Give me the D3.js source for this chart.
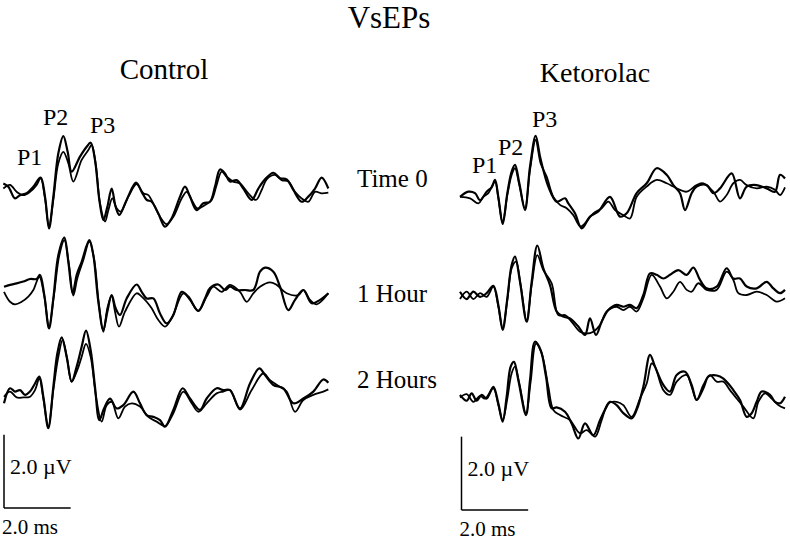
<!DOCTYPE html>
<html><head><meta charset="utf-8">
<script src="https://cdn.jsdelivr.net/npm/d3@7"></script>
<style>
html,body{margin:0;padding:0;background:#fff;}
</style></head>
<body><svg id="c" width="790" height="542"></svg>
<script>
// ---- data: [time (ms), amplitude (µV)] ----
const control_t0_a = [[0.10,0.09],[0.25,0],[0.45,-0.32],[0.6,-0.23],[0.8,-0.18],[1.0,0],[1.22,0.25],[1.35,-0.27],[1.47,-1.14],[1.6,-0.27],[1.75,0.91],[1.9,1.38],[2.03,0.95],[2.15,0.41],[2.4,0.82],[2.6,1.09],[2.72,1.2],[2.85,0.73],[2.98,-0.36],[3.1,-0.91],[3.22,-0.55],[3.35,-0.05],[3.47,-0.55],[3.58,-0.77],[3.8,-0.36],[4.08,0.11],[4.25,-0.14],[4.4,-0.36],[4.55,-0.41],[4.75,-0.73],[4.95,-1.09],[5.15,-0.86],[5.4,-0.27],[5.55,0],[5.7,-0.27],[5.9,-0.64],[6.1,-0.45],[6.3,-0.41],[6.45,0],[6.6,0.47],[6.75,0.36],[6.9,0.14],[7.1,0.18],[7.3,-0.05],[7.55,-0.36],[7.75,-0.05],[7.95,0.2],[8.2,0.38],[8.4,0.23],[8.6,0.2],[8.8,-0.09],[9.05,-0.41],[9.25,-0.27],[9.45,-0.05],[9.65,0.25],[9.85,-0.05]];
const control_t0_b = [[0.1,-0.05],[0.3,0.05],[0.5,-0.14],[0.7,-0.23],[0.9,-0.14],[1.1,0.05],[1.22,0.23],[1.35,-0.32],[1.47,-1.09],[1.6,-0.36],[1.75,0.64],[1.9,0.95],[2.05,0.64],[2.2,0.14],[2.45,0.73],[2.65,1.0],[2.75,1.14],[2.88,0.55],[3.0,-0.45],[3.15,-0.95],[3.25,-0.64],[3.37,-0.32],[3.5,-0.59],[3.62,-0.68],[3.85,-0.27],[4.1,0.07],[4.3,-0.18],[4.45,-0.23],[4.62,-0.5],[4.8,-0.82],[5.0,-1.02],[5.2,-0.82],[5.45,-0.32],[5.6,-0.14],[5.75,-0.36],[5.92,-0.59],[6.15,-0.5],[6.35,-0.36],[6.5,0.05],[6.65,0.41],[6.8,0.27],[7.0,0.14],[7.2,0.09],[7.45,-0.18],[7.68,-0.36],[7.85,-0.09],[8.0,0.2],[8.25,0.32],[8.45,0.18],[8.65,0.14],[8.85,-0.14],[9.05,-0.32],[9.25,-0.41],[9.45,-0.14],[9.65,-0.18],[9.85,-0.16]];
const control_1h_a = [[0.12,0.09],[0.3,0.14],[0.5,0.18],[0.7,0.23],[0.9,0.3],[1.1,0.3],[1.2,0.41],[1.33,-0.14],[1.47,-1.05],[1.6,-0.23],[1.75,0.95],[1.93,1.43],[2.05,0.77],[2.18,-0.09],[2.3,0.41],[2.45,0.77],[2.68,1.36],[2.8,0.95],[2.95,-0.32],[3.1,-1.09],[3.22,-0.59],[3.35,-0.14],[3.47,-0.5],[3.6,-0.68],[3.8,-0.23],[4.1,0.15],[4.25,-0.05],[4.4,-0.23],[4.6,-0.23],[4.8,-0.64],[5.0,-0.91],[5.2,-0.68],[5.45,-0.05],[5.65,-0.18],[5.95,-0.57],[6.15,-0.23],[6.3,0.05],[6.55,0.15],[6.75,0],[6.9,0.09],[7.1,0],[7.35,0],[7.6,0],[7.8,0.5],[7.95,0.61],[8.2,0.5],[8.4,0.09],[8.65,-0.55],[8.85,-0.27],[9.1,0],[9.35,-0.36],[9.6,-0.27],[9.85,-0.09]];
const control_1h_b = [[0.12,-0.05],[0.3,-0.32],[0.45,-0.39],[0.65,-0.32],[0.85,-0.18],[1.0,0],[1.18,0.36],[1.33,-0.18],[1.47,-1.0],[1.62,-0.14],[1.78,0.95],[1.93,1.36],[2.07,0.68],[2.2,-0.15],[2.32,0.32],[2.5,0.82],[2.68,1.32],[2.82,0.86],[2.97,-0.41],[3.1,-1.14],[3.22,-0.5],[3.35,-0.15],[3.45,-0.59],[3.57,-1.0],[3.75,-0.59],[4.1,-0.09],[4.25,-0.18],[4.4,-0.32],[4.55,-0.5],[4.75,-0.82],[4.95,-1.0],[5.15,-0.77],[5.5,-0.09],[5.7,-0.27],[5.95,-0.57],[6.2,-0.18],[6.4,0.09],[6.65,-0.05],[6.9,0.14],[7.2,-0.05],[7.4,-0.32],[7.6,-0.09],[7.8,0.09],[8.1,0.21],[8.3,0.14],[8.6,-0.09],[8.95,-0.14],[9.1,0],[9.3,-0.27],[9.5,-0.39],[9.85,-0.09]];
const control_2h_a = [[0.12,-0.18],[0.3,0.23],[0.45,0.14],[0.6,0.18],[0.75,0.05],[0.9,0.14],[1.05,0.36],[1.18,0.55],[1.3,0],[1.45,-0.86],[1.6,0.27],[1.72,1.18],[1.85,1.62],[2.0,1.09],[2.15,0.41],[2.3,0.82],[2.45,1.36],[2.58,1.8],[2.72,1.27],[2.85,0.27],[2.98,-0.64],[3.12,-0.32],[3.3,-0.05],[3.5,-0.32],[3.7,-0.23],[4.0,0.14],[4.2,-0.18],[4.4,-0.5],[4.6,-0.55],[4.8,-0.64],[4.95,-0.82],[5.2,-0.36],[5.48,0.23],[5.7,-0.05],[6.0,-0.36],[6.2,-0.05],[6.5,0.23],[6.7,0.18],[6.9,0.18],[7.2,-0.32],[7.5,0.36],[7.78,0.77],[7.95,0.59],[8.2,0.32],[8.5,0.23],[8.8,-0.18],[9.1,-0.05],[9.4,0.14],[9.7,0.47],[9.85,0.38]];
const control_2h_b = [[0.12,0],[0.3,0.14],[0.5,-0.02],[0.7,-0.02],[0.9,0],[1.05,0.18],[1.18,0.5],[1.3,-0.05],[1.45,-0.82],[1.6,0.18],[1.75,1.09],[1.88,1.55],[2.02,1.0],[2.15,0.41],[2.32,0.73],[2.45,1.09],[2.58,1.44],[2.72,1.09],[2.88,0],[3.05,-0.68],[3.2,-0.23],[3.35,-0.14],[3.55,-0.59],[3.75,-0.27],[3.95,-0.18],[4.2,-0.27],[4.45,-0.55],[4.7,-0.68],[4.95,-0.8],[5.2,-0.45],[5.5,0.14],[5.75,-0.18],[5.95,-0.41],[6.2,-0.18],[6.5,0.09],[6.7,0.14],[6.9,0.18],[7.2,-0.35],[7.55,0.18],[7.9,0.64],[8.1,0.45],[8.4,0.27],[8.6,0.14],[8.85,-0.41],[9.1,-0.09],[9.4,0.05],[9.7,0.14],[9.85,0.2]];
const ketorolac_t0_a = [[0.3,-0.05],[0.55,0.09],[0.75,0.05],[0.9,-0.14],[1.1,0.09],[1.25,0.21],[1.35,0.41],[1.45,-0.05],[1.58,-0.79],[1.72,0.05],[1.85,0.64],[1.95,0.82],[2.08,0.32],[2.25,-0.41],[2.4,0.77],[2.57,1.61],[2.7,1.05],[2.8,0.68],[2.95,0.23],[3.2,-0.18],[3.45,-0.09],[3.55,-0.23],[3.75,-0.5],[3.95,-0.91],[4.2,-0.59],[4.45,-0.45],[4.8,-0.05],[5.1,-0.59],[5.3,-0.5],[5.6,0.05],[5.9,0.32],[6.2,0.73],[6.5,0.55],[6.7,0.27],[6.9,0.05],[7.05,-0.41],[7.25,0.05],[7.4,0.23],[7.7,0.27],[7.9,0.05],[8.1,0.18],[8.45,0.59],[8.7,-0.09],[8.9,0.23],[9.2,0.27],[9.5,0.18],[9.75,0.09],[9.9,0.55],[10.05,0.45]];
const ketorolac_t0_b = [[0.3,-0.05],[0.6,-0.09],[0.85,-0.23],[1.0,-0.05],[1.15,0.05],[1.35,0.36],[1.45,-0.09],[1.58,-0.75],[1.72,0],[1.85,0.55],[1.95,0.73],[2.08,0.27],[2.25,-0.36],[2.4,0.68],[2.57,1.5],[2.72,0.86],[2.9,0.5],[3.1,-0.05],[3.3,-0.27],[3.5,-0.36],[3.7,-0.55],[3.92,-0.86],[4.3,-0.5],[4.55,-0.36],[4.75,-0.18],[4.95,-0.41],[5.2,-0.55],[5.4,-0.64],[5.6,-0.05],[5.9,0.23],[6.2,0.41],[6.5,0.32],[6.7,0.23],[6.9,0.14],[7.1,0.09],[7.4,0.27],[7.6,0.32],[7.9,0.09],[8.1,-0.18],[8.3,0],[8.5,0.32],[8.7,0.41],[8.9,0.27],[9.2,0.18],[9.5,0.23],[9.75,0.14],[9.9,0],[10.05,0.21]];
const ketorolac_1h_a = [[0.3,0.09],[0.5,-0.11],[0.7,0.09],[0.9,-0.05],[1.1,0.05],[1.3,0.25],[1.45,-0.27],[1.58,-0.95],[1.72,-0.09],[1.85,0.82],[1.95,1.05],[2.1,0.36],[2.3,-0.73],[2.45,0.36],[2.62,1.35],[2.8,0.73],[3.0,0.27],[3.2,-0.45],[3.4,-0.59],[3.6,-0.64],[3.85,-0.86],[4.05,-1.09],[4.2,-0.64],[4.38,-1.09],[4.55,-0.73],[4.75,-0.41],[5.0,-0.27],[5.2,-0.32],[5.4,-0.27],[5.6,-0.36],[5.8,0],[6.0,0.59],[6.2,0.55],[6.4,0.45],[6.6,0.55],[6.85,0.68],[7.1,0.55],[7.3,0.75],[7.5,0.41],[7.7,0.18],[8.0,0.23],[8.3,0.73],[8.5,0.45],[8.7,0.45],[8.9,0.23],[9.2,0.18],[9.5,0.36],[9.7,0.18],[9.9,0.05],[10.05,0.14]];
const ketorolac_1h_b = [[0.3,-0.11],[0.5,0.09],[0.7,-0.11],[0.9,0.05],[1.1,-0.05],[1.3,0.23],[1.45,-0.32],[1.58,-0.91],[1.72,-0.14],[1.85,0.73],[1.98,0.91],[2.12,0.27],[2.3,-0.68],[2.45,0.27],[2.62,1.09],[2.8,0.68],[3.05,0.32],[3.25,-0.55],[3.45,-0.55],[3.65,-0.73],[3.9,-1.0],[4.1,-1.05],[4.3,-1.0],[4.5,-0.82],[4.7,-0.45],[5.0,-0.32],[5.2,-0.41],[5.4,-0.32],[5.6,-0.45],[5.8,-0.09],[6.05,0.55],[6.3,0.23],[6.5,-0.09],[6.7,0.09],[6.9,0.36],[7.1,0.14],[7.25,0.09],[7.45,0.32],[7.7,0.14],[8.0,0.14],[8.3,0.64],[8.5,0.41],[8.65,0.05],[8.9,0],[9.2,0.09],[9.5,0],[9.8,-0.18],[10.05,-0.09]];
const ketorolac_2h_a = [[0.3,0.05],[0.5,-0.11],[0.65,0.09],[0.8,-0.11],[0.95,0.05],[1.1,-0.05],[1.3,0.27],[1.45,-0.18],[1.58,-0.68],[1.7,0],[1.82,0.82],[1.92,0.95],[2.05,0.45],[2.28,-0.5],[2.4,0.45],[2.55,1.5],[2.72,1.27],[2.88,0.55],[3.05,-0.32],[3.2,-0.29],[3.45,-0.41],[3.65,-0.73],[3.85,-1.14],[4.05,-0.73],[4.3,-1.05],[4.5,-0.64],[4.7,-0.27],[4.8,-0.14],[5.0,-0.23],[5.2,-0.45],[5.45,-0.59],[5.6,-0.36],[5.8,0.27],[6.0,1.14],[6.15,0.82],[6.4,0.32],[6.6,0.14],[6.8,0.59],[7.05,0.68],[7.25,0.32],[7.4,-0.09],[7.6,0.23],[7.75,0.55],[7.9,0.59],[8.1,0.55],[8.3,0.41],[8.5,0.18],[8.7,-0.09],[8.9,-0.55],[9.05,-0.45],[9.2,-0.14],[9.35,0.14],[9.6,0.05],[9.75,-0.14],[9.9,-0.18],[10.05,0]];
const ketorolac_2h_b = [[0.3,-0.02],[0.5,0.07],[0.7,-0.14],[0.9,0.02],[1.05,-0.05],[1.3,0.23],[1.45,-0.23],[1.58,-0.64],[1.72,-0.05],[1.85,0.64],[1.95,0.82],[2.08,0.36],[2.28,-0.45],[2.42,0.41],[2.58,1.45],[2.75,1.18],[2.95,0.27],[3.1,-0.36],[3.3,-0.5],[3.6,-0.64],[3.9,-1.0],[4.1,-0.91],[4.35,-1.09],[4.55,-0.64],[4.75,-0.18],[5.0,-0.14],[5.2,-0.23],[5.45,-0.55],[5.7,-0.05],[5.9,0.36],[6.05,0.91],[6.15,0.82],[6.4,0.18],[6.6,0.05],[6.8,0.41],[7.1,0.59],[7.25,0.27],[7.4,-0.09],[7.6,0.32],[7.8,0.59],[8.0,0.41],[8.2,0.41],[8.4,0.18],[8.6,-0.05],[8.8,-0.27],[9.1,-0.59],[9.25,-0.14],[9.45,0.09],[9.65,-0.05],[9.85,-0.23],[10.05,-0.32]];

const title = "VsEPs";
const groups = ["Control", "Ketorolac"];
const rowLabels = ["Time 0", "1 Hour", "2 Hours"];
const peakLabels = ["P1", "P2", "P3"];
const scaleBarText = ["2.0 µV", "2.0 ms"];
const scaleBarValues = {ms: 2.0, uv: 2.0};

// ---- layout ----
const svg = d3.select("#c");
const font = "Liberation Serif, Times New Roman, serif";
const pxPerMs = 100/3, pxPerUv = 110/3;
const panelX0 = [0, 450];
const rowBase = [[186.7, 290, 396.7], [195, 295, 396.7]];
const traces = [
  [[control_t0_a, control_t0_b],[control_1h_a, control_1h_b],[control_2h_a, control_2h_b]],
  [[ketorolac_t0_a, ketorolac_t0_b],[ketorolac_1h_a, ketorolac_1h_b],[ketorolac_2h_a, ketorolac_2h_b]]
];

function xScale(g){ return d3.scaleLinear().domain([0,10]).range([panelX0[g], panelX0[g] + 10*pxPerMs]); }
function yScale(base){ return d3.scaleLinear().domain([-2,2]).range([base + 2*pxPerUv, base - 2*pxPerUv]); }

traces.forEach((grp, g) => {
  const x = xScale(g);
  grp.forEach((pair, r) => {
    const y = yScale(rowBase[g][r]);
    const line = d3.line().x(d => x(d[0])).y(d => y(d[1])).curve(d3.curveCatmullRom.alpha(0.5));
    pair.forEach((tr, i) => {
      svg.append("path").attr("d", line(tr)).attr("fill","none")
        .attr("stroke","#000").attr("stroke-width", i===0 ? 2.2 : 1.8)
        .attr("stroke-linejoin","round");
    });
  });
});

function txt(x, y, size, s, anchor){
  return svg.append("text").attr("x", x).attr("y", y)
    .attr("font-family", font).attr("font-size", size)
    .attr("text-anchor", anchor || "start").attr("fill", "#000").text(s);
}

// titles
txt(389, 28, 31, title, "middle");
txt(164, 79, 29, groups[0], "middle");
txt(595, 82, 28, groups[1], "middle");

const rowLabelY = [187, 302, 388];
rowLabels.forEach((t,i) => txt(357, rowLabelY[i], 25, t));

// peak labels
const peakPos = [
  [[17,165],[43,125],[90,133]],
  [[472,173],[498,155],[532,127]]
];
peakPos.forEach(g => g.forEach((p,i) => txt(p[0], p[1], 24, peakLabels[i])));

// scale bars
const barOrigin = [[4, 508],[461.5, 510]];
barOrigin.forEach((o, g) => {
  const xs = d3.scaleLinear().domain([0, 10]).range([o[0], o[0] + 10*pxPerMs]);
  const ys = d3.scaleLinear().domain([0, 2]).range([o[1], o[1] - 2*pxPerUv]);
  svg.append("line").attr("x1", xs(0)).attr("x2", xs(0)).attr("y1", ys(0)).attr("y2", ys(scaleBarValues.uv))
    .attr("stroke","#000").attr("stroke-width",1.5);
  svg.append("line").attr("x1", xs(0)).attr("x2", xs(scaleBarValues.ms)).attr("y1", ys(0)).attr("y2", ys(0))
    .attr("stroke","#000").attr("stroke-width",1.5);
  txt(o[0] + 6, o[1] - 34, 22, scaleBarText[0]);
  txt(o[0] - 2, o[1] + 26, 21, scaleBarText[1]);
});
</script></body></html>
